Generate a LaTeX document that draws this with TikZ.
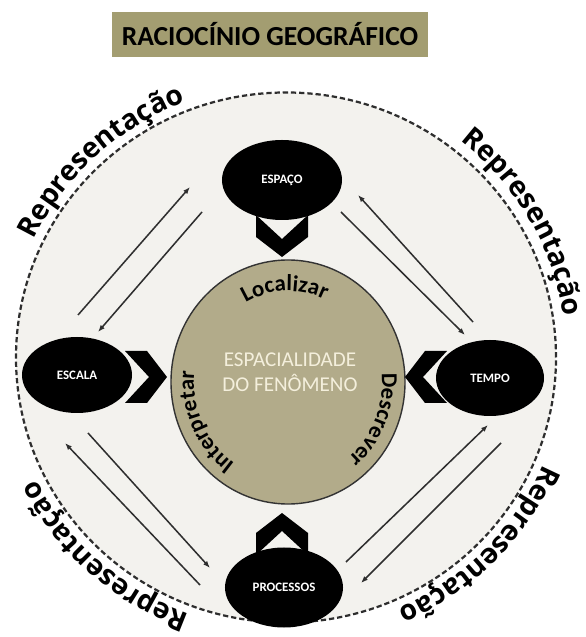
\documentclass[tikz,border=0pt]{standalone}
\usepackage{fontspec}
\setmainfont{Carlito}
\newfontfamily\ringfont{Open Sans}
\usetikzlibrary{arrows.meta, positioning, shapes.geometric, decorations.text}
\definecolor{geokhaki}{HTML}{A39D71}
\definecolor{ringgray}{HTML}{F3F2EE}
\definecolor{corekhaki}{HTML}{B2AB8A}
\definecolor{corecream}{HTML}{F4EFDC}
\definecolor{inkgray}{HTML}{2E2E2E}

\tikzset{
  blackoval/.style={ellipse, fill=black, inner sep=0pt, text=white,
    font=\bfseries\fontsize{11}{13}\selectfont},
  flow/.style={draw=inkgray, line width=1.3pt, -{Latex[length=6pt,width=4.5pt]}},
  chev/.pic={\fill (0,0) -- (-20,26) -- (-42,26) -- (-18,0) -- (-42,-26) -- (-20,-26) -- cycle;},
  ringtext/.style={decorate, decoration={text along path, text align=center,
    text={|\ringfont\bfseries\fontsize{24}{28}\selectfont|Representação}}},
  arctext/.style={decorate, decoration={text along path, text align=center,
    text={|\bfseries\fontsize{19.5}{22}\selectfont|#1}}},
}

\begin{document}
\begin{tikzpicture}[x=0.03cm, y=0.03cm]
  \useasboundingbox (0,0) rectangle (586,637);

  % title
  \node[fill=geokhaki, minimum width=9.48cm, minimum height=1.35cm,
    font=\bfseries\fontsize{23.5}{28}\selectfont] (titulo) at (270,602.5) {RACIOCÍNIO GEOGRÁFICO};

  % outer ring
  \node[ellipse, fill=ringgray, draw=inkgray, line width=1.9pt, dash pattern=on 4.5pt off 2.5pt,
    minimum width=16.2cm, minimum height=15.9cm, inner sep=0pt] (anel) at (286,279.5) {};

  \path[ringtext] (anel.center) ++(175:279 and 274) arc[start angle=175, end angle=91, x radius=279, y radius=274];
  \path[ringtext] (anel.center) ++(72:281 and 276) arc[start angle=72, end angle=-12, x radius=281, y radius=276];
  \path[ringtext] (anel.center) ++(-2.5:279 and 274) arc[start angle=-2.5, end angle=-86.5, x radius=279, y radius=274];
  \path[ringtext] (anel.center) ++(270:279 and 274) arc[start angle=270, end angle=186, x radius=279, y radius=274];

  % arrows between the ovals
  \foreach \nome/\ax/\ay/\bx/\by in {a/78/322/190/450, b/202/425/98/305,
      c/473/315/358/442, d/341/425/465/302, e/346/75/488/212, f/501/194/361/54,
      g/200/52/65/194, h/88/204/210/69}{
    \coordinate (\nome1) at (\ax,\ay);
    \coordinate (\nome2) at (\bx,\by);
    \draw[flow] (\nome1) -- (\nome2);
  }

  % core
  \node[ellipse, fill=corekhaki, draw=black!80, line width=1.2pt,
    minimum width=7.02cm, minimum height=7.32cm, inner sep=0pt] (nucleo) at (288,255) {};
  \node[align=center, text=corecream, font=\fontsize{18}{21.5}\selectfont] (fenomeno) at (290,265)
    {ESPACIALIDADE\\DO FENÔMENO};

  \path[arctext=Localizar] (nucleo.center) ++(132:86 and 91) arc[start angle=132, end angle=52, x radius=86, y radius=91];
  \path[arctext=Descrever] (nucleo.center) ++(22:94 and 99) arc[start angle=22, end angle=-68, x radius=94, y radius=99];
  \path[arctext=Interpretar] (nucleo.center) ++(250:94 and 99) arc[start angle=250, end angle=160, x radius=94, y radius=99];

  % chevrons
  \pic[rotate=-90] at (282,380) {chev};
  \pic at (167,260) {chev};
  \pic[rotate=180] at (405,260) {chev};
  \pic[rotate=90] at (282,124) {chev};

  % ovals
  \node[blackoval, minimum width=3.6cm, minimum height=2.4cm] (espaco) at (282,457) {ESPAÇO};
  \node[blackoval, minimum width=3.3cm, minimum height=2.28cm] (escala) at (77,262) {ESCALA};
  \node[blackoval, minimum width=3.24cm, minimum height=2.28cm] (tempo) at (490,259) {TEMPO};
  \node[blackoval, minimum width=3.54cm, minimum height=2.4cm] (processos) at (284,49.5) {PROCESSOS};
\end{tikzpicture}
\end{document}
